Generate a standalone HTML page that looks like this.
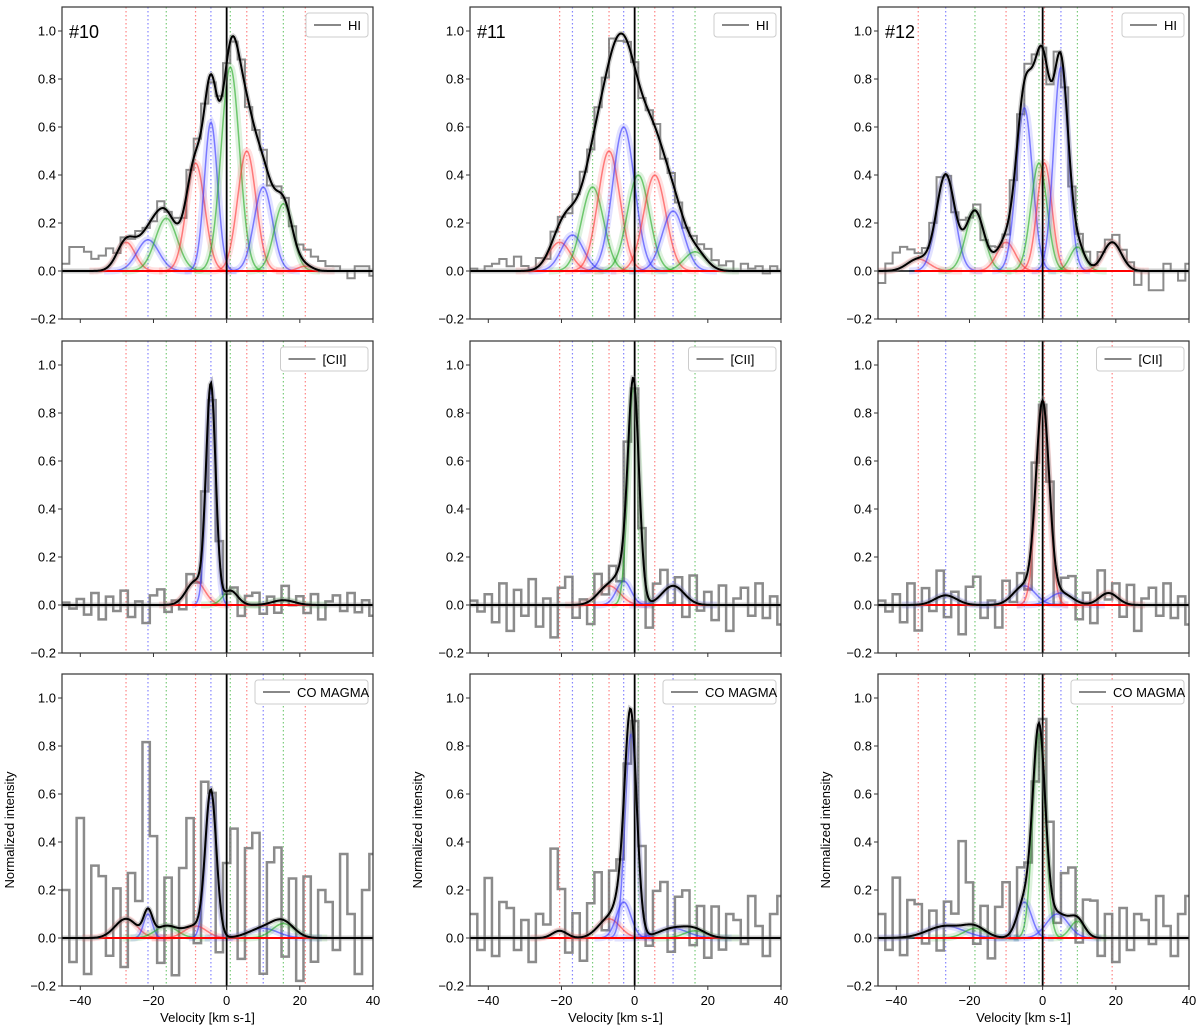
<!DOCTYPE html>
<html><head><meta charset="utf-8"><style>
body{margin:0;background:#fff;font-family:"Liberation Sans",sans-serif}
svg text{font-family:"Liberation Sans",sans-serif}
</style></head><body>
<svg id="fig" width="1200" height="1027" xmlns="http://www.w3.org/2000/svg"></svg>
<script>
// x channels for residual arrays: -45 .. 39 step 2
const resStart = -45, resStep = 2;
// Panel #10 HI components
const p10hi_c=[-27.5,-21.5,-16.5,-8.5,-4.3,1,5.5,10,15.5,21.5];
const p10hi_a=[0.12,0.13,0.22,0.45,0.62,0.85,0.5,0.35,0.28,0.02];
const p10hi_s=[2.5,3,3,2.5,1.8,2.5,2.5,2.5,2.5,2];
const p10cii_c=[-8.5,-4.3,1,15.5];
const p10cii_a=[0.1,0.9,0.06,0.02];
const p10cii_s=[2.5,1.3,2,3];
const p10co_c=[-27.5,-21.5,-16.5,-8.5,-4.3,10,15.5];
const p10co_a=[0.08,0.1,0.05,0.05,0.6,0.04,0.06];
const p10co_s=[3,1.2,3,3,1.5,4,3];
// Panel #11
const p11hi_c=[-20.5,-17,-11.5,-7,-3,1,5.5,10.5,16.5];
const p11hi_a=[0.12,0.15,0.35,0.5,0.6,0.4,0.4,0.25,0.08];
const p11hi_s=[3,3,3,3,3,3,3,3,3];
const p11cii_c=[-7,-3,-0.3,10.5];
const p11cii_a=[0.08,0.1,0.9,0.08];
const p11cii_s=[3,2,1.5,3];
const p11co_c=[-20.5,-7,-3,-1,10.5,16.5];
const p11co_a=[0.03,0.08,0.15,0.85,0.04,0.03];
const p11co_s=[2,3,2,1.6,4,3];
// Panel #12
const p12hi_c=[-34,-26.5,-18.5,-10,-5,-1,0.5,5,9.5,19];
const p12hi_a=[0.05,0.4,0.25,0.12,0.68,0.45,0.45,0.85,0.1,0.12];
const p12hi_s=[3,2.5,2.5,2.5,2.2,2.2,2,2,2,2.5];
const p12cii_c=[-26.5,-5,0,5,18];
const p12cii_a=[0.04,0.08,0.82,0.05,0.05];
const p12cii_s=[3,3,1.8,3,2.5];
const p12co_c=[-26.5,-18.5,-5,-1,4,9.5];
const p12co_a=[0.05,0.04,0.15,0.85,0.1,0.07];
const p12co_s=[5,3,2,1.7,3,2];
// residuals / noise
const hiRes10=[0.03,0.1,0.1,0.08,0.05,0.06,0.07,0.0,0.01,-0.01,0.02,0.0,-0.02,0.03,0.0,0.02,-0.02,0.02,0.03,0.01,-0.03,0.02,0.0,-0.02,0.03,-0.02,0.01,0.03,-0.02,0.02,0.01,0.01,0.04,0.06,0.05,0.04,0.02,0.02,0.0,-0.03,0.02,0.02,-0.02];
const hiRes11=[0.01,0.0,0.02,0.03,0.05,0.02,0.06,0.02,0.0,0.03,-0.02,0.02,0.01,-0.02,0.02,0.03,-0.01,0.02,0.0,0.04,-0.03,0.0,0.02,-0.02,0.01,0.03,-0.02,0.02,0.0,-0.01,0.02,0.03,0.05,0.03,0.02,0.04,0.0,0.03,0.01,0.02,-0.01,0.02,0.0];
const hiRes12=[-0.05,0.03,0.07,0.08,0.05,0.02,0.02,0.03,0.05,0.0,-0.02,0.04,0.0,0.03,-0.03,0.02,0.0,-0.02,0.02,-0.03,0.03,0.02,0.0,-0.02,0.03,-0.02,0.0,0.02,0.03,0.0,0.02,0.02,0.04,0.03,0.02,-0.06,0.0,-0.08,-0.08,0.03,0.0,-0.04,0.03];
const ciiNoise=[0.02,-0.03,0.05,-0.08,0.1,-0.12,0.07,-0.05,0.12,-0.1,0.03,-0.15,0.08,0.13,-0.06,0.02,-0.11,0.09,-0.04,0.06,-0.09,0.11,-0.02,0.04,-0.13,0.07,0.1,-0.08,0.05,-0.1,0.12,-0.03,0.06,-0.07,0.09,-0.12,0.03,0.08,-0.05,0.1,-0.06,0.04,-0.09];
const coNoise=[0.2,-0.1,0.5,-0.15,0.3,0.25,-0.1,0.15,-0.2,0.2,0.1,0.7,0.35,-0.15,0.2,-0.2,0.25,0.45,-0.1,0.3,0.0,-0.25,0.3,0.45,-0.1,0.35,0.4,-0.2,0.25,0.3,-0.15,0.2,-0.2,0.25,-0.1,0.2,0.15,-0.05,0.35,0.1,-0.15,0.2,0.35];
const xTicks=[-40,-20,0,20,40];
const yTicks=[-0.2,0,0.2,0.4,0.6,0.8,1.0];
const labels=["#10","#11","#12"];
const lineNames=["HI","[CII]","CO MAGMA"];

const NS="http://www.w3.org/2000/svg";
const svg=document.getElementById('fig');
const colX=[62,470,878], rowY=[7,341,674], W=311, H=312;
const XMIN=-45,XMAX=40,YMIN=-0.2,YMAX=1.1;
const cols=['#ff3333','#3333ff','#22aa22'];
function el(t,a,p){const e=document.createElementNS(NS,t);for(const k in a)e.setAttribute(k,a[k]);(p||svg).appendChild(e);return e;}
function g(x,c,a,s){let v=0;for(let i=0;i<c.length;i++)v+=a[i]*Math.exp(-0.5*((x-c[i])/s[i])**2);return v;}

const panels=[
 [[p10hi_c,p10hi_a,p10hi_s,'hi',hiRes10,1],[p10cii_c,p10cii_a,p10cii_s,'n',ciiNoise,0.5],[p10co_c,p10co_a,p10co_s,'n',coNoise,1]],
 [[p11hi_c,p11hi_a,p11hi_s,'hi',hiRes11,1],[p11cii_c,p11cii_a,p11cii_s,'n',ciiNoise,0.9],[p11co_c,p11co_a,p11co_s,'n',coNoise,0.5]],
 [[p12hi_c,p12hi_a,p12hi_s,'hi',hiRes12,1],[p12cii_c,p12cii_a,p12cii_s,'n',ciiNoise,0.9],[p12co_c,p12co_a,p12co_s,'n',coNoise,0.5]]
];

for(let ci=0;ci<3;ci++)for(let ri=0;ri<3;ri++){
 const L=colX[ci],T=rowY[ri];
 const sx=v=>L+(v-XMIN)/(XMAX-XMIN)*W;
 const sy=v=>T+(YMAX-v)/(YMAX-YMIN)*H;
 const [c,a,s,kind,res,sc]=panels[ci][ri];
 const ref=panels[ci][0][0];
 const colorOf=cc=>{let bi=0;ref.forEach((r,i)=>{if(Math.abs(r-cc)<Math.abs(ref[bi]-cc))bi=i;});return cols[bi%3];};
 const gp=el('g',{});
 
 
 const cp=el('clipPath',{id:'cp'+ci+ri},gp);el('rect',{x:L,y:T,width:W,height:H},cp);
 const inner=el('g',{'clip-path':'url(#cp'+ci+ri+')'},gp);
 // dotted component lines (shared per column)
 ref.forEach((cc,i)=>{const ln=el('line',{x1:sx(cc),x2:sx(cc),y1:T,y2:T+H,stroke:cols[i%3],'stroke-width':1.2,'stroke-dasharray':'1.5,2.5',opacity:0.6},inner);
  });
 // observed step spectrum
 let d='';
 for(let k=0;k<res.length;k++){const x0=resStart+k*resStep,x1=x0+resStep;const v=g(x0+1,c,a,s)+res[k]*sc;
  d+=(k===0?'M':'L')+sx(x0)+','+sy(v)+'L'+sx(x1)+','+sy(v);}
 const obs=el('path',{d:d,fill:'none',stroke:'#777',opacity:0.85,'stroke-width':kind==='hi'?2:2.5},inner);
 
 // components
 c.forEach((cc,i)=>{let pd='';for(let x=cc-4*s[i];x<=cc+4*s[i];x+=0.25){pd+=(pd?'L':'M')+sx(x)+','+sy(a[i]*Math.exp(-0.5*((x-cc)/s[i])**2));}
  const col=colorOf(cc);
  el('path',{d:pd,fill:'none',stroke:col,'stroke-width':7,opacity:0.15},inner);
  const cpth=el('path',{d:pd,fill:'none',stroke:col,'stroke-width':1.5,opacity:0.6},inner);
  });
 // zero lines
 el('line',{x1:L,x2:L+W,y1:sy(0),y2:sy(0),stroke:'#000','stroke-width':1.5},inner);
 el('line',{x1:sx(-35),x2:sx(25),y1:sy(0),y2:sy(0),stroke:'#f00','stroke-width':2},inner);
 el('line',{x1:sx(0),x2:sx(0),y1:T,y2:T+H,stroke:'#000','stroke-width':1.8},inner);
 // model
 let md='';for(let x=XMIN;x<=XMAX;x+=0.25){md+=(md?'L':'M')+sx(x)+','+sy(g(x,c,a,s));}
 el('path',{d:md,fill:'none',stroke:'#888','stroke-width':5,opacity:0.4},inner);
 const mp=el('path',{d:md,fill:'none',stroke:'#000','stroke-width':2},inner);
 
 // frame
 el('rect',{x:L,y:T,width:W,height:H,fill:'none',stroke:'#333','stroke-width':1.2},gp);
 yTicks.forEach(t=>{el('line',{x1:L-4,x2:L,y1:sy(t),y2:sy(t),stroke:'#333'},gp);
  const tx=el('text',{x:L-6,y:sy(t)+4.5,'text-anchor':'end','font-size':13},gp);tx.textContent=(t<0?'\u22120.2':t.toFixed(1));
  });
 xTicks.forEach(t=>{el('line',{x1:sx(t),x2:sx(t),y1:T+H,y2:T+H+4,stroke:'#333'},gp);
  if(ri===2){const tx=el('text',{x:sx(t),y:T+H+19,'text-anchor':'middle','font-size':13},gp);tx.textContent=t<0?'\u2212'+(-t):t;
  }});
 if(ri===2){const xl=el('text',{x:L+W/2-10,y:T+H+36,'text-anchor':'middle','font-size':13},gp);xl.textContent='Velocity [km s-1]';
  
  const yl=el('text',{x:0,y:0,'text-anchor':'middle','font-size':13,transform:`translate(${L-48},${T+H/2}) rotate(-90)`},gp);yl.textContent='Normalized intensity';
  }
 if(ri===0){const lb=el('text',{x:L+7,y:T+31,'font-size':18},gp);lb.textContent=labels[ci];
  }
 // legend
 const nm=lineNames[ri];const lw=nm.length*8.5+45;
 const lg=el('g',{},gp);
 el('rect',{x:L+W-lw-5,y:T+6,width:lw,height:24,rx:3,fill:'#fff',stroke:'#ccc'},lg);
 el('line',{x1:L+W-lw+3,x2:L+W-lw+30,y1:T+18,y2:T+18,stroke:'#888','stroke-width':2},lg);
 const lt=el('text',{x:L+W-lw+37,y:T+23,'font-size':13},lg);lt.textContent=nm;
}
</script>
</body></html>
